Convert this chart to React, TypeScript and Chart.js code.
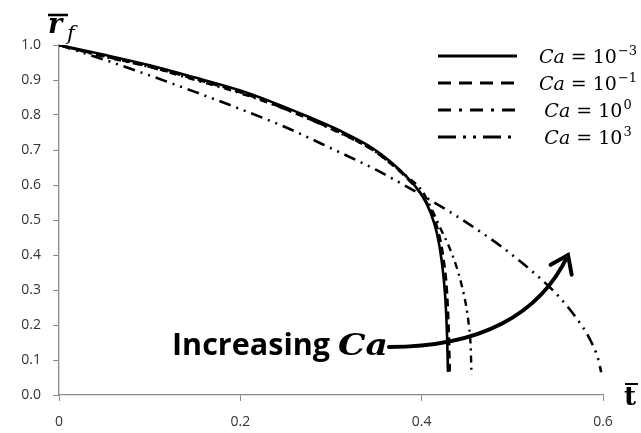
import React, { useEffect, useRef } from 'react';
import { Chart, registerables } from 'chart.js';

Chart.register(...registerables);

// Ca = 10^-3 (solid)
const tCaA = [0, 0.05, 0.1, 0.15, 0.2, 0.236, 0.273, 0.31, 0.346, 0.365, 0.384, 0.4, 0.41, 0.417, 0.422, 0.426, 0.428, 0.429];
const rCaA = [1.0, 0.972, 0.942, 0.907, 0.87, 0.836, 0.797, 0.755, 0.705, 0.668, 0.622, 0.572, 0.52, 0.46, 0.385, 0.28, 0.17, 0.066];
// Ca = 10^-1 (dashed)
const tCaB = [0, 0.05, 0.1, 0.15, 0.2, 0.236, 0.273, 0.31, 0.346, 0.365, 0.384, 0.4, 0.41, 0.418, 0.424, 0.428, 0.43, 0.431];
const rCaB = [1.0, 0.968, 0.938, 0.903, 0.865, 0.831, 0.792, 0.75, 0.7, 0.663, 0.619, 0.572, 0.527, 0.47, 0.39, 0.29, 0.17, 0.062];
// Ca = 10^0 (dash-dot)
const tCaC = [0, 0.05, 0.1, 0.15, 0.2, 0.25, 0.3, 0.346, 0.365, 0.384, 0.4, 0.41, 0.42, 0.43, 0.438, 0.444, 0.449, 0.452, 0.454, 0.455];
const rCaC = [1.0, 0.966, 0.937, 0.9, 0.862, 0.816, 0.76, 0.7, 0.664, 0.624, 0.585, 0.537, 0.48, 0.425, 0.37, 0.315, 0.255, 0.2, 0.14, 0.058];
// Ca = 10^3 (dash-dot-dot)
const tCaD = [0, 0.05, 0.1, 0.15, 0.2, 0.25, 0.3, 0.35, 0.37, 0.39, 0.41, 0.43, 0.45, 0.47, 0.49, 0.51, 0.53, 0.55, 0.57, 0.585, 0.595, 0.598];
const rCaD = [1.0, 0.958, 0.913, 0.866, 0.817, 0.765, 0.705, 0.643, 0.615, 0.586, 0.556, 0.525, 0.492, 0.457, 0.42, 0.379, 0.335, 0.285, 0.222, 0.162, 0.1, 0.065];

const seriesExponents = ['\u22123', '\u22121', '0', '3'];
const plotDashes: number[][] = [[], [8, 5], [7, 5, 2, 5], [12, 6, 2, 6, 2, 6]];
const legendDashes: number[][] = [[], [13, 8], [13, 8, 3, 8], [18, 7, 3, 7, 3, 7]];
const seriesWidths = [2.6, 2.6, 2.4, 2.6];

const xTickValues = [0, 0.2, 0.4, 0.6];
const yMin = 0;
const yMax = 1.0;
const yStep = 0.1;

const annotationWord = 'Increasing';
const annotationSymbol = 'Ca';

function pts(ts: number[], rs: number[]) {
  return ts.map((t, i) => ({ x: t, y: rs[i] }));
}

const decorPlugin = {
  id: 'decor',
  afterDraw(chart: any) {
    const ctx: CanvasRenderingContext2D = chart.ctx;
    ctx.save();
    ctx.fillStyle = '#000';
    ctx.strokeStyle = '#000';

    // Y axis title: r-bar subscript f
    ctx.font = 'bold italic 27px "DejaVu Serif"';
    ctx.textBaseline = 'alphabetic';
    ctx.textAlign = 'left';
    ctx.fillText('r', 48, 33);
    ctx.lineWidth = 2.6;
    ctx.beginPath();
    ctx.moveTo(48, 15);
    ctx.lineTo(68, 15);
    ctx.stroke();
    ctx.font = 'italic 21px "DejaVu Serif"';
    ctx.fillText('f', 67, 40);

    // X axis title: t-bar
    ctx.font = 'bold 26px "DejaVu Serif"';
    ctx.fillText('t', 624, 405);
    ctx.lineWidth = 2;
    ctx.beginPath();
    ctx.moveTo(625, 384);
    ctx.lineTo(638, 384);
    ctx.stroke();

    // Legend
    const rows = [56, 83, 110, 137];
    rows.forEach((y, i) => {
      ctx.save();
      ctx.lineWidth = 3;
      ctx.setLineDash(legendDashes[i]);
      ctx.lineCap = 'butt';
      ctx.beginPath();
      ctx.moveTo(438, y);
      ctx.lineTo(517, y);
      ctx.stroke();
      ctx.restore();
      const fCa = 'italic 19px "DejaVu Serif"';
      const fEq = '19px "DejaVu Serif"';
      const fSup = '13px "DejaVu Serif"';
      const p1 = annotationSymbol;
      const p2 = ' = 10';
      const p3 = seriesExponents[i];
      ctx.font = fCa;
      const w1 = ctx.measureText(p1).width;
      ctx.font = fEq;
      const w2 = ctx.measureText(p2).width;
      ctx.font = fSup;
      const w3 = ctx.measureText(p3).width;
      const total = w1 + w2 + w3 + 1;
      let x = 588 - total / 2;
      const base = y + 7;
      ctx.font = fCa;
      ctx.fillText(p1, x, base);
      x += w1;
      ctx.font = fEq;
      ctx.fillText(p2, x, base);
      x += w2 + 1;
      ctx.font = fSup;
      ctx.fillText(p3, x, base - 8);
    });

    // Annotation text
    ctx.font = 'bold 31px "Open Sans"';
    const wWord = ctx.measureText(annotationWord).width;
    ctx.save();
    ctx.translate(172, 355);
    ctx.scale(158 / wWord, 1);
    ctx.fillText(annotationWord, 0, 0);
    ctx.restore();
    ctx.font = 'bold italic 29px "DejaVu Serif"';
    const wSym = ctx.measureText(annotationSymbol).width;
    ctx.save();
    ctx.translate(338, 355);
    ctx.scale(50 / wSym, 1);
    ctx.fillText(annotationSymbol, 0, 0);
    ctx.restore();

    // Curved arrow
    const P0 = [389, 347], P1 = [480, 347], P2 = [540, 315], P3 = [568, 255];
    ctx.lineWidth = 4;
    ctx.lineCap = 'round';
    ctx.beginPath();
    ctx.moveTo(P0[0], P0[1]);
    ctx.bezierCurveTo(P1[0], P1[1], P2[0], P2[1], P3[0], P3[1]);
    ctx.stroke();
    const dx = P2[0] - P3[0], dy = P2[1] - P3[1];
    const len = Math.hypot(dx, dy);
    const ux = dx / len, uy = dy / len;
    const ang = 0.62;
    const wing = 20;
    ctx.lineJoin = 'miter';
    ctx.beginPath();
    const rot = (a: number) => [ux * Math.cos(a) - uy * Math.sin(a), ux * Math.sin(a) + uy * Math.cos(a)];
    const a1 = rot(ang), a2 = rot(-ang);
    ctx.moveTo(P3[0] + a1[0] * wing, P3[1] + a1[1] * wing);
    ctx.lineTo(P3[0], P3[1]);
    ctx.lineTo(P3[0] + a2[0] * wing, P3[1] + a2[1] * wing);
    ctx.stroke();

    ctx.restore();
  },
};

export default function App() {
  const canvasRef = useRef<HTMLCanvasElement | null>(null);

  useEffect(() => {
    const canvas = canvasRef.current;
    if (!canvas) return;
    const mkDs = (label: string, ts: number[], rs: number[], i: number) => ({
      label,
      data: pts(ts, rs),
      borderColor: '#000',
      backgroundColor: '#000',
      borderWidth: seriesWidths[i],
      borderDash: plotDashes[i],
      pointRadius: 0,
      fill: false,
      cubicInterpolationMode: 'monotone' as const,
    });
    const chart = new Chart(canvas, {
      type: 'line',
      data: {
        datasets: [
          mkDs('Ca = 10^-3', tCaA, rCaA, 0),
          mkDs('Ca = 10^-1', tCaB, rCaB, 1),
          mkDs('Ca = 10^0', tCaC, rCaC, 2),
          mkDs('Ca = 10^3', tCaD, rCaD, 3),
        ],
      },
      options: {
        responsive: false,
        animation: false,
        devicePixelRatio: 1,
        layout: { padding: { left: 0, top: 45, right: 38, bottom: 0 } },
        plugins: {
          legend: { display: false },
          tooltip: { enabled: false },
        },
        scales: {
          x: {
            type: 'linear',
            min: 0,
            max: 0.6,
            afterBuildTicks: (scale: any) => {
              scale.ticks = xTickValues.map((v) => ({ value: v }));
            },
            afterFit: (scale: any) => {
              scale.height = 38;
            },
            ticks: {
              color: '#333',
              font: { family: '"Open Sans"', size: 14 },
              padding: 13,
              maxRotation: 0,
              callback: (v: any) => (Number(v) === 0 ? '0' : Number(v).toFixed(1)),
            },
            grid: { drawOnChartArea: false, drawTicks: true, tickLength: 6, color: '#8a8a8a', lineWidth: 1 },
            border: { display: true, color: '#8a8a8a', width: 1.3 },
          },
          y: {
            type: 'linear',
            min: yMin,
            max: yMax,
            ticks: {
              stepSize: yStep,
              color: '#333',
              font: { family: '"Open Sans"', size: 14 },
              padding: 12,
              callback: (v: any) => Number(v).toFixed(1),
            },
            afterFit: (scale: any) => {
              scale.width = 59;
            },
            grid: { drawOnChartArea: false, drawTicks: true, tickLength: 6, color: '#8a8a8a', lineWidth: 1 },
            border: { display: true, color: '#8a8a8a', width: 1.3 },
          },
        },
      },
      plugins: [decorPlugin],
    } as any);
    return () => chart.destroy();
  }, []);

  return (
    <div style={{ position: 'absolute', left: 0, top: 0, width: 641, height: 433, background: '#fff' }}>
      <canvas ref={canvasRef} width={641} height={433} style={{ width: 641, height: 433, display: 'block' }} />
    </div>
  );
}
